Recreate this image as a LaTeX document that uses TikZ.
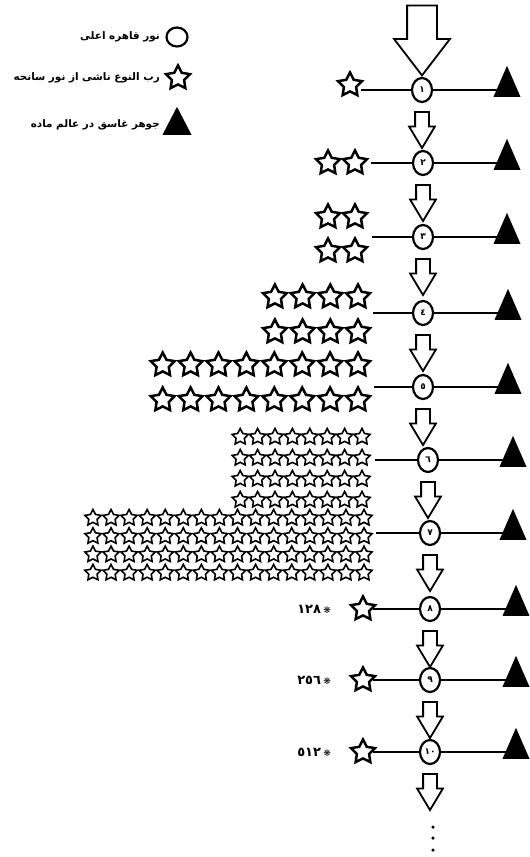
\documentclass[tikz,border=0pt]{standalone}
\usepackage{fontspec}
\newfontfamily\arabicfont[Script=Arabic]{DejaVu Sans}
\newfontfamily\symbfont{DejaVu Sans}
\TeXXeTstate=1
\usetikzlibrary{shapes.geometric, shapes.arrows, positioning, calc}

\begin{document}
\begin{tikzpicture}[x=1pt,y=-1pt,
  nur/.style={ellipse,draw,line width=2.2pt,minimum width=20pt,minimum height=24pt,inner sep=0pt,font=\arabicfont\bfseries\fontsize{9}{9}\selectfont},
  rab/.style={star,star points=5,star point ratio=1.95,draw,line width=2.5pt,fill=white,minimum size=25pt,inner sep=0pt},
  rabs/.style={rab,line width=1.6pt,minimum size=17pt},
  jow/.style={isosceles triangle,isosceles triangle stretches,shape border rotate=90,fill=black,minimum width=27pt,minimum height=31pt,inner sep=0pt},
  flow/.style={single arrow,draw,line width=1.8pt,shape border rotate=270,minimum height=36pt,inner sep=6pt,single arrow head extend=6pt,single arrow tip angle=62,anchor=tail},
  link/.style={line width=2.2pt},
  lbl/.style={font=\arabicfont\bfseries\fontsize{10.4}{10.4}\selectfont,anchor=east,inner sep=0pt},
  cnt/.style={font=\arabicfont\bfseries\fontsize{13}{13}\selectfont,anchor=east,inner sep=0pt},
  dot/.style={circle,fill,minimum size=3.5pt,inner sep=0pt}
]
  \useasboundingbox (0,0) rectangle (530,857);

  \node[nur,minimum width=21pt,minimum height=19pt](lc) at (177,37) {};
  \node[lbl](lt1) at (160,37) {\beginR نور قاهره اعلی\endR};
  \node[rab](ls) at (178,78) {};
  \node[lbl](lt2) at (160,78) {\beginR رب النوع ناشی از نور سانحه\endR};
  \node[jow,minimum width=29pt,minimum height=28pt](lj) at (177,126) {};
  \node[lbl](lt3) at (160,125) {\beginR جوهر غاسق در عالم ماده\endR};

  \foreach \k/\x/\y/\d in {1/422/90/١, 2/423/163/٢, 3/423/237/٣, 4/423/313/٤, 5/423/387/٥,
                         6/428/460/٦, 7/430/533/٧, 8/430/609/٨, 9/430/680/٩, 10/430/752/١٠}
    \node[nur](c\k) at (\x,\y) {\d};
  \foreach \k/\x/\y in {1/507/90, 2/507/163, 3/507/237, 4/508/313, 5/508/387,
                        6/513/460, 7/513/533, 8/516/609, 9/516/680, 10/516/752}
    \node[jow](t\k) at (\x,\y-2) {};

  \node[flow,minimum height=70pt,inner sep=14pt,single arrow head extend=13pt,single arrow tip angle=75,anchor=tip](a0) at (c1.north) {};
  \foreach \k in {1,...,10}
    \node[flow](a\k) at ($(c\k.south)+(0,8)$) {};
  \node[dot](d1) at (433,827) {};
  \node[dot](d2) at (433,838) {};
  \node[dot](d3) at (433,850) {};

  \node[rab](s1-0-0) at (350,85) {};
  \foreach \i in {0,1}
    \node[rab](s2-\i-0) at (355-27*\i,163) {};
  \foreach \i in {0,1} \foreach \j in {0,1}
    \node[rab](s3-\i-\j) at (355-27*\i,217+34*\j) {};
  \foreach \i in {0,...,3} \foreach \j in {0,1}
    \node[rab](s4-\i-\j) at (358-27.7*\i,297+35*\j) {};
  \foreach \i in {0,...,7} \foreach \j in {0,1}
    \node[rab](s5-\i-\j) at (358-27.9*\i,365+35*\j) {};
  \foreach \i in {0,...,7} \foreach \j in {0,...,3}
    \node[rabs](s6-\i-\j) at (362-17.4*\i,437+21*\j) {};
  \foreach \i in {0,...,15} \foreach \j in {0,...,3}
    \node[rabs](s7-\i-\j) at (364-18.07*\i,518+18.3*\j) {};
  \foreach \k/\y/\v in {8/609/١٢٨, 9/680/٢٥٦, 10/752/٥١٢} {
    \node[rab](s\k-0-0) at (363,\y) {};
    \node[cnt](n\k) at (331,\y) {\v\,{\symbfont\fontsize{9}{9}\selectfont ❋}};
  }

  \coordinate (l1) at (361,90);
  \coordinate (l2) at (371,163);
  \coordinate (l3) at (372,237);
  \coordinate (l4) at (373,313);
  \coordinate (l5) at (374,387);
  \coordinate (l6) at (375,460);
  \coordinate (l7) at (376,533);
  \foreach \k in {1,...,7}
    \draw[link](l\k)--(c\k);
  \foreach \k in {8,9,10}
    \draw[link](s\k-0-0)--(c\k);
  \foreach \k in {1,...,10}
    \draw[link](c\k)--(c\k-|t\k.west);
\end{tikzpicture}
\end{document}
